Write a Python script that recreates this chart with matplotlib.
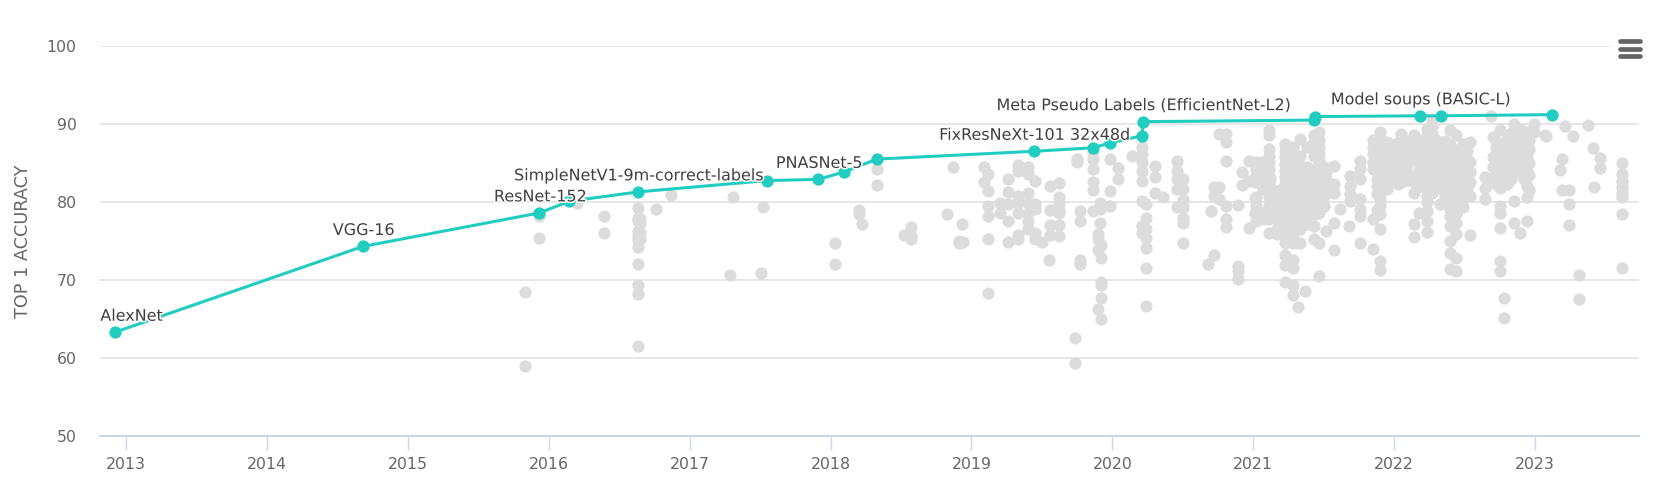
import matplotlib
matplotlib.use("Agg")
import matplotlib.pyplot as plt
import matplotlib.patheffects as pe
from matplotlib.lines import Line2D
from matplotlib.patches import Rectangle

# Best-model frontier
best_dates = [2012.92, 2014.68, 2015.934, 2016.147, 2016.637, 2017.552, 2017.914, 2018.096, 2018.328,
              2019.444, 2019.86, 2019.98, 2020.21, 2020.22, 2021.43, 2021.435, 2022.184, 2022.33, 2023.12]
best_acc = [63.3, 74.3, 78.6, 80.1, 81.3, 82.75, 82.9, 83.85, 85.5,
            86.5, 86.95, 87.55, 88.5, 90.3, 90.5, 90.95, 91.05, 91.05, 91.2]
best_labels = {0: "AlexNet", 1: "VGG-16", 2: "ResNet-152", 4: "SimpleNetV1-9m-correct-labels",
               6: "PNASNet-5", 9: "FixResNeXt-101 32x48d", 13: "Meta Pseudo Labels (EfficientNet-L2)",
               16: "Model soups (BASIC-L)"}
label_shift = {0: 17}

years = list(range(2013, 2024))
acc_ticks = [50, 60, 70, 80, 90, 100]

# Other models: (date, accuracies at that date)
papers_2015_18 = [
    (2015.83, [68.4, 59.0]), (2015.93, [78.2, 75.4]), (2016.2, [79.9]), (2016.39, [78.2, 76.0]),
    (2016.637, [79.2, 78.0, 77.6, 76.3, 75.7, 75.1, 74.2, 72.0, 69.3, 68.2, 61.5]),
    (2016.65, [77.8, 77.3, 76.0, 75.2]),
    (2016.76, [79.1]), (2016.87, [80.9]), (2017.31, [80.6]), (2017.29, [70.7]), (2017.52, [79.3]),
    (2017.51, [70.9]), (2018.03, [74.8, 72.1]), (2018.2, [79.0, 78.4]), (2018.22, [77.2]),
    (2018.33, [84.2, 82.2]), (2018.52, [75.8]), (2018.57, [76.8, 75.6, 75.3]), (2018.83, [78.4]),
    (2018.87, [84.5]), (2018.93, [77.2]), (2018.91, [74.8, 75.0]), (2018.94, [74.9]),
]
papers_2019 = [
    (2019.09, [84.5, 82.5]), (2019.12, [83.6, 81.4, 79.5, 78.2, 75.2, 68.3]),
    (2019.20, [79.9, 78.6]), (2019.26, [83.0, 81.3, 79.7, 77.6, 74.85]),
    (2019.33, [84.75, 84.0, 80.8, 79.9, 78.6, 75.8, 75.3]),
    (2019.40, [84.45, 83.6, 81.2, 79.9, 78.6, 77.6, 76.5]),
    (2019.45, [82.7, 79.7, 79.1, 75.2, 76.0]),
    (2019.50, [74.85]), (2019.55, [72.6]), (2019.56, [82.1, 79.0, 77.1, 75.8]),
    (2019.62, [82.4, 79.7, 78.85, 77.1, 75.6, 78.6, 80.6]),
    (2019.77, [78.9, 77.6, 72.6, 72.1]), (2019.75, [85.5, 85.1]), (2019.735, [62.6, 59.4]),
    (2019.865, [86.4, 85.5, 84.2, 82.6, 81.5, 78.85]), (2019.91, [79.9, 79.1, 77.3]),
    (2019.98, [79.5, 85.5, 81.4]), (2019.90, [75.85, 75.2, 73.9, 66.25]),
    (2019.92, [74.55, 72.8, 69.8, 69.3, 67.75, 64.95]),
]
papers_2020 = [
    (2020.04, [84.3, 83.0]), (2020.14, [85.9]),
    (2020.21, [87.0, 86.2, 85.1, 84.0, 82.7, 80.15, 76.9, 76.05]),
    (2020.24, [79.7, 78.0, 76.5, 75.4, 74.1, 71.6, 66.7]),
    (2020.30, [84.6, 83.2, 81.2]), (2020.36, [80.6]),
    (2020.46, [85.2, 84.0, 83.0, 81.65, 79.3]),
    (2020.50, [82.9, 81.65, 80.3, 79.3, 78.0, 77.3, 74.7]),
    (2020.68, [72.05]), (2020.70, [78.85]), (2020.72, [81.9, 80.8, 73.25]),
    (2020.76, [81.9, 80.35, 88.75]), (2020.81, [88.75, 87.75, 85.3, 79.5, 77.8, 76.8]),
    (2020.89, [79.6, 71.75, 71.1, 70.1]), (2020.92, [83.8, 82.2]), (2020.97, [85.3, 82.7, 76.7]),
]
papers_2021 = [
    (2021.01, [80.45, 78.6]),
    (2021.02, [85.1, 84.25, 83.35, 82.5, 80.6, 79.5, 78.65, 77.55]),
    (2021.07, [85.1, 84.25, 83.35, 82.5, 81.65, 78.65, 77.8]),
    (2021.11, [89.2, 88.55, 86.8, 85.95, 85.1, 84.25, 83.35, 82.5, 81.2, 80.6, 79.5, 78.65, 77.8, 76.05]),
    (2021.17, [80.8, 79.5, 77.8, 76.5, 75.85]),
    (2021.225, [87.45, 86.6, 85.75, 84.9, 84.0, 83.15, 82.3, 81.45, 80.6, 79.7, 78.85, 78.0, 76.9, 75.85, 74.75, 73.25, 71.95, 69.8]),
    (2021.285, [87.05, 86.2, 85.1, 84.25, 83.35, 82.5, 81.65, 80.8, 79.95, 79.05, 78.2, 76.9, 75.65, 74.75, 72.6, 71.55, 69.4, 68.1]),
    (2021.32, [66.6]), (2021.37, [68.65]),
    (2021.33, [88.1, 85.95, 84.65, 83.8, 82.95, 82.1, 81.2, 80.35, 79.5, 78.65, 77.8, 76.5, 74.75]),
    (2021.38, [87.05, 84.45, 83.6, 82.7, 81.85, 81.0, 80.15, 78.85, 78.0, 77.15]),
    (2021.43, [88.55, 87.7, 86.8, 85.95, 84.25, 83.35, 82.5, 81.65, 80.8, 79.95, 78.65, 76.9, 75.2]),
    (2021.47, [89.0, 87.9, 87.05, 86.2, 85.3, 84.45, 83.6, 82.95, 81.2, 80.35, 78.65, 74.75, 70.55]),
    (2021.52, [83.8, 82.95, 82.1, 81.2, 76.25]),
    (2021.57, [84.65, 82.3, 81.2, 77.35, 73.8]),
    (2021.615, [79.05]), (2021.68, [76.9]),
    (2021.69, [83.35, 82.1, 81.0, 80.15]),
    (2021.76, [85.3, 84.25, 82.95, 80.35, 79.05, 78.2, 74.75]),
    (2021.85, [87.9, 87.05, 86.2, 85.1, 84.25, 77.8, 73.95]),
    (2021.88, [88.0, 87.0, 86.0, 85.0, 84.0, 83.0, 82.0, 81.0, 79.0]),
    (2021.90, [89.0, 88.1, 87.25, 86.4, 85.5, 84.65, 83.8, 82.95, 82.1, 81.2, 80.35, 79.5, 78.4, 76.5, 72.4, 71.3]),
    (2021.95, [87.7, 86.8, 85.95, 85.1, 84.25, 83.35, 82.5, 81.65]),
    (2021.99, [87.25, 86.0, 85.0, 84.0, 82.95]),
    (2021.12, [83.0, 81.9, 79.9, 78.9]),
    (2021.19, [81.6, 80.0, 79.0, 78.5, 77.0]),
    (2021.26, [83.5, 82.0, 81.0, 80.0, 78.4, 77.4, 76.4]),
    (2021.41, [83.0, 82.0, 81.0, 80.0, 79.0, 78.0]),
    (2021.50, [84.5, 83.2, 82.0, 80.8, 79.5]),
]
papers_2022 = [
    (2022.03, [87.5, 86.5, 85.5, 84.5, 83.2, 82.3]),
    (2022.05, [88.75, 87.9, 86.4, 85.1, 83.6, 82.5]),
    (2022.09, [87.8, 86.8, 85.8, 84.8, 83.8, 82.8]),
    (2022.14, [88.55, 87.7, 86.6, 85.5, 83.35, 82.5, 81.2, 77.15, 75.5]),
    (2022.18, [85.95, 85.1, 84.25, 83.15, 82.3, 78.65]),
    (2022.21, [88.0, 87.0, 86.0, 84.9, 83.9, 82.9, 81.9]),
    (2022.23, [89.4, 88.55, 87.7, 86.8, 85.95, 85.1, 84.25, 83.35, 82.5, 81.65, 80.8, 79.95, 78.85, 77.55, 76.15]),
    (2022.27, [90.5, 89.6, 88.75, 87.8, 86.9, 85.95, 84.65, 83.35, 82.1, 81.2]),
    (2022.30, [88.0, 87.0, 86.0, 85.0, 84.0, 83.0, 82.0]),
    (2022.325, [87.45, 86.2, 84.45, 83.15, 81.85, 79.7]),
    (2022.36, [87.8, 86.8, 85.8, 84.8, 83.8, 82.8, 81.8, 80.8]),
    (2022.40, [89.2, 87.25, 85.95, 84.65, 83.35, 82.5, 81.65, 80.8, 79.95, 79.05, 78.2, 76.9, 75.0, 73.5, 71.4]),
    (2022.42, [86.5, 85.4, 84.2, 83.0, 81.9, 80.6, 79.6, 78.7, 77.8]),
    (2022.44, [88.55, 86.6, 85.1, 83.8, 82.5, 81.2, 80.15, 79.3, 78.4, 77.35, 75.85, 72.85, 71.2]),
    (2022.47, [86.8, 85.6, 84.3, 83.0, 81.9, 80.7]),
    (2022.49, [87.45, 85.75, 84.45, 83.15, 81.85, 80.8, 79.3]),
    (2022.52, [86.5, 85.4, 84.2, 83.0, 81.7]),
    (2022.54, [87.7, 85.1, 83.8, 82.5, 80.8, 75.8]),
    (2022.645, [83.15, 81.85, 80.35]),
    (2022.69, [91.0]),
    (2022.70, [88.3, 85.75, 84.45, 82.95]),
    (2022.72, [87.8, 86.9, 85.0, 84.0, 83.4, 82.3]),
    (2022.75, [89.2, 87.25, 84.25, 82.95, 81.85, 79.5, 78.65, 76.7, 72.4, 71.1]),
    (2022.78, [87.4, 86.4, 85.5, 84.6, 83.7, 82.7, 67.65, 65.15]),
    (2022.80, [88.1, 86.8, 85.3, 83.6, 82.3]),
    (2022.83, [88.9, 87.9, 87.0, 86.0, 85.0, 84.0, 83.0]),
    (2022.85, [90.05, 88.55, 86.8, 85.1, 83.8, 80.1, 77.3]),
    (2022.87, [88.9, 87.9, 87.0, 86.0, 85.0, 84.0]),
    (2022.89, [89.4, 87.7, 86.4, 84.45, 76.05]),
    (2022.92, [88.4, 87.2, 86.0, 85.0, 84.0, 83.0]),
    (2022.94, [89.0, 87.45, 85.75, 83.8, 82.1, 80.6, 77.5]),
    (2022.96, [88.8, 87.9, 86.8, 85.0, 83.5, 81.6]),
    (2022.99, [90.05, 89.0]),
]
papers_2023 = [
    (2023.07, [88.55]), (2023.08, [88.5]), (2023.18, [84.1]), (2023.19, [85.5, 81.5]),
    (2023.215, [89.8]), (2023.24, [81.6, 79.8, 77.0]), (2023.27, [88.4]),
    (2023.31, [70.6, 67.6]), (2023.375, [89.9]), (2023.41, [86.9]), (2023.42, [81.9]),
    (2023.46, [85.7, 84.3]),
    (2023.62, [85.0, 83.6, 82.7, 81.9, 81.2, 80.6, 78.4, 71.5]),
]

W, H = 1654, 486
fig = plt.figure(figsize=(W / 100, H / 100), dpi=100)
ax = fig.add_axes([100 / W, (H - 436) / H, 1538.7 / W, 390 / H])
ax.set_xlim(2012.815, 2023.736)
ax.set_ylim(50, 100)
font = "DejaVu Sans"

other_x, other_y = [], []
for group in (papers_2015_18, papers_2019, papers_2020, papers_2021, papers_2022, papers_2023):
    for date, accs in group:
        for a in accs:
            other_x.append(date)
            other_y.append(a)

ax.scatter(other_x, other_y, s=78, color="#dcdcdc", linewidths=0, zorder=2, clip_on=False)
ax.plot(best_dates, best_acc, color="#21cdc1", lw=2.2, zorder=3, clip_on=False, solid_capstyle="round")
ax.scatter(best_dates, best_acc, s=78, color="#21cdc1", linewidths=0, zorder=3, clip_on=False)

for i, text in best_labels.items():
    ax.annotate(text, (best_dates[i], best_acc[i]), xytext=(label_shift.get(i, 1), 16),
                textcoords="offset pixels", ha="center", va="center", fontsize=11.5,
                family=font, color="#404040", zorder=4,
                path_effects=[pe.withStroke(linewidth=2.2, foreground="white")])

ax.set_yticks(acc_ticks)
ax.set_xticks(years)
ax.set_xticklabels([str(y) for y in years])
ax.grid(axis="y", color="#e6e6e6", lw=1.4, zorder=0)
ax.set_axisbelow(True)
for s in ("top", "right", "left"):
    ax.spines[s].set_visible(False)
ax.spines["bottom"].set_color("#ccd6eb")
ax.spines["bottom"].set_linewidth(1.5)
ax.tick_params(axis="y", length=0, pad=17, labelsize=11.3, labelcolor="#666666")
ax.tick_params(axis="x", length=10, width=1, color="#ccd6eb", pad=5, labelsize=11.3, labelcolor="#666666")
for lab in ax.get_xticklabels() + ax.get_yticklabels():
    lab.set_family(font)

fig.text(23 / W, 1 - 241 / H, "TOP 1 ACCURACY", rotation=90, ha="center", va="center",
         fontsize=12.7, color="#666666", family=font)

# Chart menu button, masking the top gridline
fig.add_artist(Rectangle((1611 / W, 1 - 62 / H), 43 / W, 30 / H, transform=fig.transFigure,
                         facecolor="white", edgecolor="none", zorder=5))
for py in (41.5, 49, 56.5):
    fig.add_artist(Line2D([1620 / W, 1640 / W], [1 - py / H, 1 - py / H], transform=fig.transFigure,
                          color="#666666", lw=3.4, solid_capstyle="round", zorder=6))

fig.savefig("out.png", dpi=100)
